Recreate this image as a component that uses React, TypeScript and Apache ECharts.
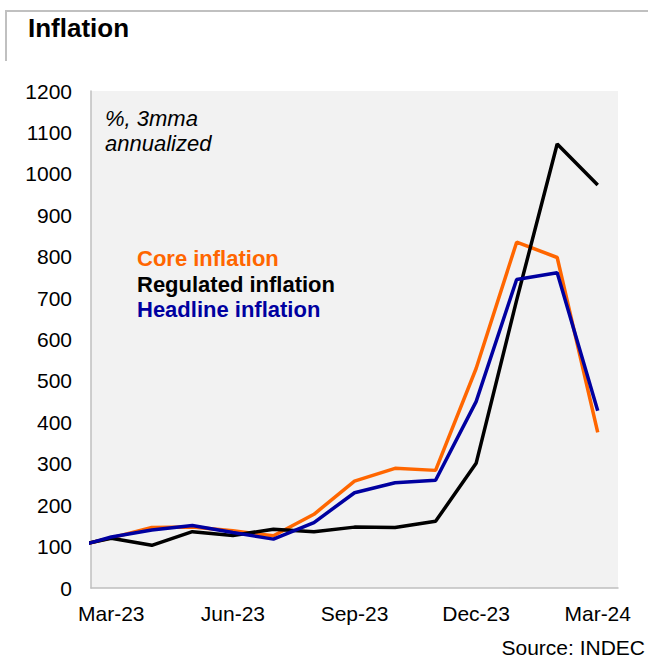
import React, { useEffect, useRef } from "react";
import * as echarts from "echarts";

const months = ["Feb-23", "Mar-23", "Apr-23", "May-23", "Jun-23", "Jul-23", "Aug-23", "Sep-23", "Oct-23", "Nov-23", "Dec-23", "Jan-24", "Feb-24", "Mar-24"];
const coreInflation = [98, 121, 146, 147, 138, 126, 178, 258, 289, 284, 530, 835, 798, 376];
const regulatedInflation = [99, 120, 103, 136, 127, 142, 136, 147, 146, 161, 301, 695, 1072, 973];
const headlineInflation = [96, 123, 140, 151, 134, 118, 158, 230, 254, 260, 450, 745, 761, 428];
const tickLabels = ["Mar-23", "Jun-23", "Sep-23", "Dec-23", "Mar-24"];
const yTicks = [0, 100, 200, 300, 400, 500, 600, 700, 800, 900, 1000, 1100, 1200];

const FONT = "'Liberation Sans', Arial, sans-serif";
const ORANGE = "#ff6600";
const BLACK = "#000000";
const BLUE = "#0000a0";

export default function App() {
  const ref = useRef<HTMLDivElement>(null);
  useEffect(() => {
    document.body.style.margin = "0";
    if (!ref.current) return;
    const chart = echarts.init(ref.current, undefined, { renderer: "svg" });
    const offset = months.indexOf("Mar-23");
    const toPairs = (arr: number[]) => arr.map((v, i) => [i - offset, v]);
    const tickValues = tickLabels.map((l) => months.indexOf(l) - offset);
    chart.setOption({
      animation: false,
      backgroundColor: "#ffffff",
      grid: {
        left: 91,
        right: 30,
        top: 91,
        bottom: 73,
        show: true,
        backgroundColor: "#f2f2f2",
        borderWidth: 0,
      },
      xAxis: {
        type: "value",
        min: -0.5,
        max: 12.5,
        axisLine: { show: true, onZero: false, lineStyle: { color: "#bfbfbf", width: 1.5 } },
        axisTick: { show: false },
        splitLine: { show: false },
        axisLabel: {
          customValues: tickValues,
          formatter: (v: number) => {
            const idx = tickValues.indexOf(Math.round(v));
            return idx >= 0 ? tickLabels[idx] : "";
          },
          color: "#000",
          fontFamily: FONT,
          fontSize: 21,
          margin: 15,
        },
      },
      yAxis: {
        type: "value",
        min: yTicks[0],
        max: yTicks[yTicks.length - 1],
        interval: 100,
        axisLine: { show: true, onZero: false, lineStyle: { color: "#bfbfbf", width: 1.5 } },
        axisTick: { show: false },
        splitLine: { show: false },
        axisLabel: {
          formatter: (v: number) => String(v),
          color: "#000",
          fontFamily: FONT,
          fontSize: 21,
          margin: 19,
        },
      },
      series: [
        {
          name: "Core inflation",
          type: "line",
          data: toPairs(coreInflation),
          showSymbol: false,
          clip: true,
          lineStyle: { color: ORANGE, width: 3.5 },
          itemStyle: { color: ORANGE },
        },
        {
          name: "Regulated inflation",
          type: "line",
          data: toPairs(regulatedInflation),
          showSymbol: false,
          clip: true,
          lineStyle: { color: BLACK, width: 3.5 },
          itemStyle: { color: BLACK },
        },
        {
          name: "Headline inflation",
          type: "line",
          data: toPairs(headlineInflation),
          showSymbol: false,
          clip: true,
          lineStyle: { color: BLUE, width: 3.5 },
          itemStyle: { color: BLUE },
        },
      ],
      graphic: [
        { type: "line", shape: { x1: 5, y1: 11, x2: 648, y2: 11 }, style: { stroke: "#c0c0c0", lineWidth: 2 } },
        { type: "line", shape: { x1: 6, y1: 10, x2: 6, y2: 61 }, style: { stroke: "#c0c0c0", lineWidth: 2 } },
        {
          type: "text",
          left: 28,
          top: 15,
          style: { text: "Inflation", font: `bold 26px ${FONT}`, fill: "#000" },
        },
        {
          type: "text",
          left: 105,
          top: 106,
          style: { text: "%, 3mma\nannualized", font: `italic 22px ${FONT}`, lineHeight: 25, fill: "#000" },
        },
        {
          type: "text",
          left: 137,
          top: 247,
          style: { text: "Core inflation", font: `bold 22px ${FONT}`, fill: ORANGE },
        },
        {
          type: "text",
          left: 137,
          top: 273,
          style: { text: "Regulated inflation", font: `bold 22px ${FONT}`, fill: BLACK },
        },
        {
          type: "text",
          left: 137,
          top: 298,
          style: { text: "Headline inflation", font: `bold 22px ${FONT}`, fill: BLUE },
        },
        {
          type: "text",
          right: 3,
          top: 637,
          style: { text: "Source: INDEC", font: `21px ${FONT}`, fill: "#000" },
        },
      ],
    });
    return () => chart.dispose();
  }, []);
  return <div ref={ref} style={{ width: 648, height: 661 }} />;
}
